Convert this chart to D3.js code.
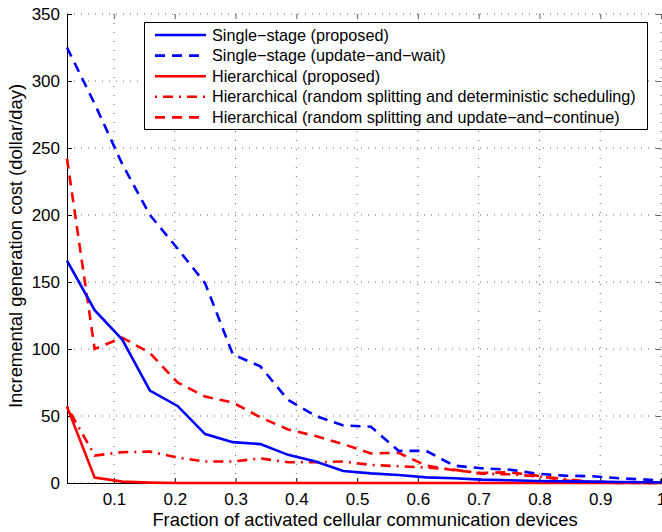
<!DOCTYPE html>
<html>
  <head>
    <meta charset="utf-8">
    <script src="https://d3js.org/d3.v7.min.js"></script>
    <style>
      body { margin: 0; background: #fff; }
      svg text { font-family: "Liberation Sans", Arial, sans-serif; fill: #000; }
    </style>
  </head>
  <body>
    <svg id="chart" width="662" height="532"></svg>
    <script>
      // x positions of the samples (fraction of activated devices)
      var xs = [0.0227, 0.0682, 0.1136, 0.1591, 0.2045, 0.25, 0.2955, 0.3409, 0.3864, 0.4318, 0.4773,
                0.5227, 0.5682, 0.6136, 0.6591, 0.7045, 0.75, 0.7955, 0.8409, 0.8864, 0.9318, 0.9773, 1];

      var singleProposed = [166, 129, 107, 69, 57.5, 36.5, 30.5, 29, 21, 16, 9, 7.2, 6, 4.2, 3.5, 2.5, 2, 1.5, 1.2, 1, 0.8, 0.6, 0.5];
      var singleWait     = [325, 283, 238, 200, 175, 149, 96, 87, 62, 50, 43, 42, 24, 24, 13, 11, 10, 7, 5.5, 5, 3.5, 2.5, 2];
      var hierProposed   = [57, 4, 1, 0.3, 0, 0, 0, 0, 0, 0, 0, 0, 0, 0, 0, 0, 0, 0, 0, 0, 0, 0, 0];
      var hierDetSched   = [57, 20.5, 23, 23.4, 19, 16, 16, 18.4, 15.5, 15.5, 16, 13.5, 12.5, 11.5, 10, 7, 6.5, 5, 3, 1, 0.5, 0, 0];
      var hierContinue   = [242, 100, 108.5, 97, 75, 64.5, 60, 49, 40, 35, 29, 22, 22.5, 13, 9.5, 7.5, 8, 5.5, 2, 0.5, 0, 0, 0];

      var xTicks = [0.1, 0.2, 0.3, 0.4, 0.5, 0.6, 0.7, 0.8, 0.9, 1];
      var yTicks = [0, 50, 100, 150, 200, 250, 300, 350];

      var series = [
        { name: "Single\u2212stage (proposed)", values: singleProposed, color: "#0000ff", dash: null },
        { name: "Single\u2212stage (update\u2212and\u2212wait)", values: singleWait, color: "#0000ff", dash: "10,7" },
        { name: "Hierarchical (proposed)", values: hierProposed, color: "#ff0000", dash: null },
        { name: "Hierarchical (random splitting and deterministic scheduling)", values: hierDetSched, color: "#ff0000", dash: "2,6,10,6" },
        { name: "Hierarchical (random splitting and update\u2212and\u2212continue)", values: hierContinue, color: "#ff0000", dash: "10,7" }
      ];

      // plot box (note: "top" is reserved on window, so prefix)
      var pLeft = 67, pRight = 661, pTop = 14, pBottom = 483;

      var x = d3.scaleLinear().domain([0.0227, 1]).range([pLeft, pRight]);
      var y = d3.scaleLinear().domain([0, 350]).range([pBottom, pTop]);

      var svg = d3.select("#chart");

      // grid
      var grid = svg.append("g");
      grid.selectAll("line.h").data(yTicks).enter().append("line")
          .attr("x1", pLeft).attr("x2", pRight)
          .attr("y1", function(d) { return y(d); }).attr("y2", function(d) { return y(d); })
          .attr("stroke", "#666").attr("stroke-width", 1).attr("stroke-dasharray", "1,6");
      grid.selectAll("line.v").data(xTicks).enter().append("line")
          .attr("y1", pTop).attr("y2", pBottom)
          .attr("x1", function(d) { return x(d); }).attr("x2", function(d) { return x(d); })
          .attr("stroke", "#666").attr("stroke-width", 1).attr("stroke-dasharray", "1,8");

      // axes
      svg.append("g")
          .attr("transform", "translate(0," + pBottom + ")")
          .call(d3.axisBottom(x).tickValues(xTicks).tickSize(-5).tickPadding(10)
                .tickFormat(function(d) { return d === 1 ? "1" : d3.format(".1f")(d); }))
          .call(function(g) {
            g.select(".domain").attr("stroke", "#000");
            g.selectAll("text").attr("font-size", 17).attr("font-family", "Liberation Sans, Arial, sans-serif");
          });
      svg.append("g")
          .attr("transform", "translate(" + pLeft + ",0)")
          .call(d3.axisLeft(y).tickValues(yTicks).tickSize(-5).tickPadding(7))
          .call(function(g) {
            g.select(".domain").attr("stroke", "#000");
            g.selectAll("text").attr("font-size", 17).attr("font-family", "Liberation Sans, Arial, sans-serif");
          });
      // top / right tick marks
      svg.append("g")
          .attr("transform", "translate(0," + pTop + ")")
          .call(d3.axisTop(x).tickValues(xTicks).tickSize(-5).tickFormat(""))
          .call(function(g) { g.select(".domain").remove(); g.selectAll("line").attr("stroke", "#666"); });
      svg.append("g")
          .attr("transform", "translate(" + pRight + ",0)")
          .call(d3.axisRight(y).tickValues(yTicks).tickSize(-5).tickFormat(""))
          .call(function(g) { g.select(".domain").remove(); g.selectAll("line").attr("stroke", "#666"); });

      // lines
      var line = d3.line()
          .x(function(d, i) { return x(xs[i]); })
          .y(function(d) { return y(d); });

      svg.append("g").selectAll("path").data(series.slice().reverse()).enter().append("path")
          .attr("d", function(s) { return line(s.values); })
          .attr("fill", "none")
          .attr("stroke", function(s) { return s.color; })
          .attr("stroke-width", 2.6)
          .attr("stroke-dasharray", function(s) { return s.dash; });

      // axis labels
      svg.append("text")
          .attr("x", 365).attr("y", 526)
          .attr("text-anchor", "middle").attr("font-size", 18.4)
          .text("Fraction of activated cellular communication devices");
      svg.append("text")
          .attr("transform", "translate(22,246) rotate(-90)")
          .attr("text-anchor", "middle").attr("font-size", 18.4)
          .text("Incremental generation cost (dollar/day)");

      // legend
      var legend = svg.append("g");
      legend.append("rect")
          .attr("x", 144.5).attr("y", 22.5).attr("width", 503).attr("height", 107)
          .attr("fill", "#fff").attr("stroke", "#000").attr("stroke-width", 1);
      var item = legend.selectAll("g.item").data(series).enter().append("g")
          .attr("transform", function(d, i) { return "translate(0," + (35 + i * 20.6) + ")"; });
      item.append("line")
          .attr("x1", 155).attr("x2", 206)
          .attr("stroke", function(s) { return s.color; })
          .attr("stroke-width", 2.6)
          .attr("stroke-dasharray", function(s) { return s.dash; });
      item.append("text")
          .attr("x", 212).attr("dy", "0.35em")
          .attr("font-size", 16.2)
          .text(function(s) { return s.name; });
    </script>
  </body>
</html>
